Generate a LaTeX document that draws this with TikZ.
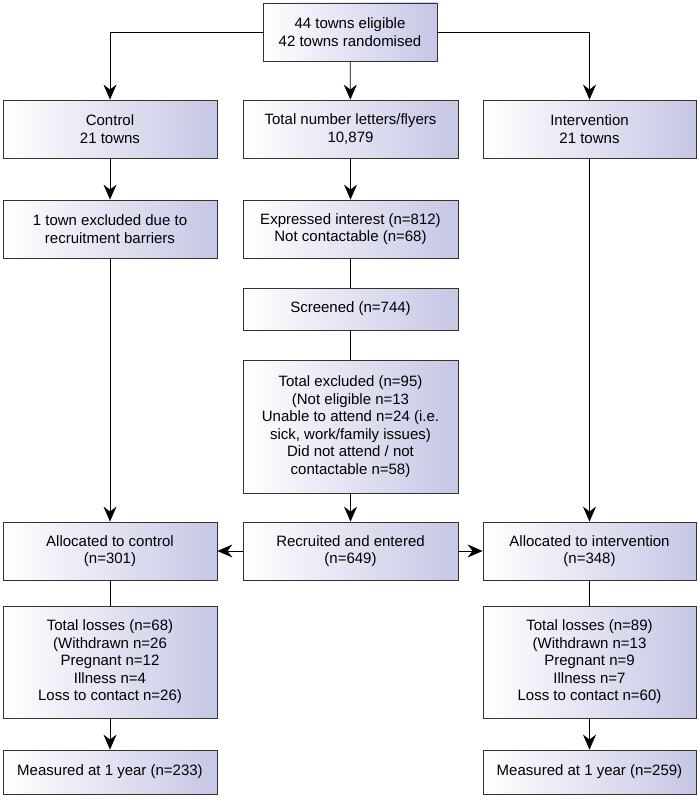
\documentclass[tikz,border=0pt]{standalone}
\usepackage{fontspec}
\setmainfont{Liberation Sans}
\usetikzlibrary{arrows.meta}
\definecolor{lav}{HTML}{C6C6E6}
\begin{document}
\begin{tikzpicture}[x=1pt,y=-1pt,
  box/.style={draw=black!80,line width=0.8pt,left color=white,right color=lav,align=center,font=\fontsize{15}{17.5}\selectfont,inner sep=0pt},
  arr/.style={line width=0.7pt,-{Stealth[length=15pt,width=13pt,inset=5pt]}},
  ln/.style={line width=0.7pt}]
\useasboundingbox (0,0) rectangle (697,800);
\newcommand{\bx}[6]{\node[box,minimum width=#3-#2,minimum height=#5-#4] (#1) at ({(#2+#3)/2},{(#4+#5)/2}) {#6};}
\bx{top}{263}{437}{3}{61}{44 towns eligible\\42 towns randomised}
\bx{ctrl}{3}{217}{100}{158}{Control\\21 towns}
\bx{tot}{243}{458}{100}{158}{Total number letters/flyers\\10,879}
\bx{int}{483}{696}{100}{158}{Intervention\\21 towns}
\bx{excl}{3}{217}{200}{258}{1 town excluded due to\\recruitment barriers}
\bx{expr}{243}{458}{200}{258}{Expressed interest (n=812)\\Not contactable (n=68)}
\bx{scr}{243}{458}{288}{330}{Screened (n=744)}
\bx{texc}{243}{458}{360}{493}{Total excluded (n=95)\\(Not eligible n=13\\Unable to attend n=24 (i.e.\\sick, work/family issues)\\Did not attend / not\\contactable n=58)}
\bx{actl}{3}{217}{522}{580}{Allocated to control\\(n=301)}
\bx{rec}{243}{458}{522}{580}{Recruited and entered\\(n=649)}
\bx{aint}{483}{696}{522}{580}{Allocated to intervention\\(n=348)}
\bx{lc}{3}{217}{606}{718}{Total losses (n=68)\\(Withdrawn n=26\\Pregnant n=12\\Illness n=4\\Loss to contact n=26)}
\bx{li}{483}{696}{606}{718}{Total losses (n=89)\\(Withdrawn n=13\\Pregnant n=9\\Illness n=7\\Loss to contact n=60)}
\bx{mc}{3}{217}{750}{794}{Measured at 1 year (n=233)}
\bx{mi}{483}{696}{750}{794}{Measured at 1 year (n=259)}
\draw[arr] (top.west) -| (ctrl.north);
\draw[arr] (top.east) -| (int.north);
\draw[arr] (top) -- (tot);
\draw[arr] (ctrl) -- (excl);
\draw[arr] (excl) -- (actl);
\draw[arr] (int) -- (aint);
\draw[arr] (tot) -- (expr);
\draw[ln] (expr) -- (scr);
\draw[ln] (scr) -- (texc);
\draw[arr] (texc) -- (rec);
\draw[arr] (rec) -- (actl);
\draw[arr] (rec) -- (aint);
\draw[ln] (actl) -- (lc);
\draw[ln] (aint) -- (li);
\draw[arr] (lc) -- (mc);
\draw[arr] (li) -- (mi);
\end{tikzpicture}
\end{document}
